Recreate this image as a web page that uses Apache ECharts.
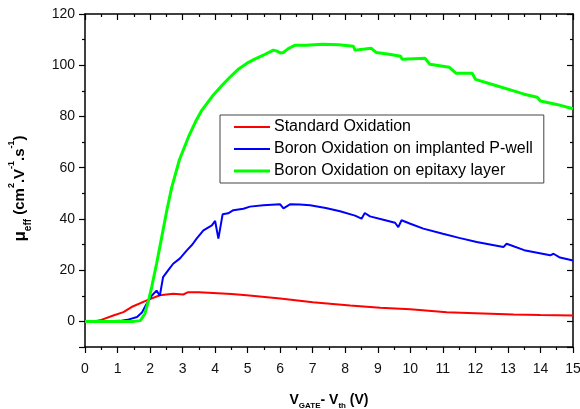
<!DOCTYPE html>
<html>
<head>
<meta charset="utf-8">
<script src="https://cdn.jsdelivr.net/npm/echarts@6/dist/echarts.min.js"></script>
<style>
  html, body { margin: 0; padding: 0; background: #fff; }
  #chart { width: 580px; height: 409px; }
</style>
</head>
<body>
<div id="chart"></div>
<script>
// Effective mobility vs. gate overdrive for three oxidation processes
const seriesNames = [
  'Standard Oxidation',
  'Boron Oxidation on implanted P-well',
  'Boron Oxidation on epitaxy layer'
];

// [V_GATE - V_th (V), mu_eff (cm2/V/s)]
const standardOxidation = [
  [0, 0], [0.3, 0.1], [0.46, 0.4], [0.87, 2.3], [1.18, 3.6], [1.43, 5.6],
  [1.9, 8.2], [2.3, 10.2], [2.71, 10.8], [3.02, 10.5], [3.17, 11.4],
  [3.5, 11.4], [3.94, 11.1], [4.5, 10.7], [4.97, 10.2], [6.0, 8.9],
  [7.0, 7.5], [8.15, 6.2], [9.07, 5.35], [10.0, 4.7], [11.12, 3.6],
  [12.0, 3.2], [13.17, 2.7], [14.0, 2.5], [15.0, 2.3]
];

const boronImplanted = [
  [0, 0], [0.5, 0], [1.08, 0.2], [1.3, 0.6], [1.6, 1.7], [1.75, 3.5],
  [1.9, 7], [2.05, 10], [2.2, 12], [2.3, 10], [2.4, 17.3], [2.56, 20],
  [2.71, 22.5], [2.92, 24.6], [3.13, 27.7], [3.3, 30], [3.43, 32.3],
  [3.64, 35.5], [3.9, 37.5], [4.0, 39.2], [4.1, 32.3], [4.23, 41.8],
  [4.4, 42.2], [4.56, 43.4], [4.87, 44], [5.07, 44.8], [5.48, 45.3],
  [6.0, 45.7], [6.1, 44.1], [6.3, 45.7], [6.6, 45.6], [6.92, 45.3],
  [7.4, 44.3], [7.84, 43], [8.3, 41.3], [8.5, 40.1], [8.6, 42.3],
  [8.76, 41], [9.2, 39.6], [9.53, 38.5], [9.63, 36.8], [9.73, 39.5],
  [10.0, 38.1], [10.4, 36.2], [11.0, 34.2], [11.5, 32.6], [12.04, 31],
  [12.45, 30], [12.86, 29], [12.96, 30.3], [13.5, 27.8], [14.3, 25.8],
  [14.4, 26.4], [14.6, 24.9], [15.0, 23.8]
];

const boronEpitaxy = [
  [0, 0], [1.0, 0], [1.5, 0], [1.7, 0.3], [1.84, 3], [1.95, 8],
  [2.05, 13.4], [2.2, 22.5], [2.36, 33], [2.51, 43], [2.66, 52],
  [2.9, 63], [3.18, 72], [3.4, 78], [3.59, 82.4], [3.94, 88.3],
  [4.2, 92], [4.46, 95.4], [4.7, 98.3], [4.97, 100.7], [5.2, 102.3],
  [5.48, 103.9], [5.79, 105.9], [5.9, 105.5], [6.0, 104.8], [6.1, 105.0],
  [6.25, 106.5], [6.45, 107.8], [6.8, 107.8], [7.3, 108.2], [7.8, 108.0],
  [8.25, 107.4], [8.3, 105.9], [8.6, 106.3], [8.8, 106.6], [8.95, 105],
  [9.3, 104.4], [9.7, 103.5], [9.75, 102.3], [10.45, 102.7], [10.6, 100.4],
  [10.9, 99.8], [11.2, 99.2], [11.4, 96.9], [11.9, 96.9], [12.0, 94.5],
  [12.6, 92.2], [13.3, 89.5], [13.5, 88.7], [13.9, 87.5], [14.0, 86],
  [14.5, 84.7], [15.0, 83]
];

const seriesColors = ['#ff0000', '#0000ff', '#00ff00'];
const seriesWidths = [2, 2, 3];
// thin bar icons for the legend keys, one per line weight
const legendIcons = [
  'path://M0,0 L36,0 L36,2 L0,2 Z',
  'path://M0,0 L36,0 L36,2 L0,2 Z',
  'path://M0,0 L36,0 L36,3 L0,3 Z'
];

const xRange = [0, 15];
const yRange = [-10, 120];
const yLabelStep = 20;

const textFont = '"Liberation Sans", Arial, sans-serif';

const axisLine = { onZero: false, lineStyle: { color: '#000', width: 1.5 } };
const tickLine = { color: '#000', width: 1.2 };

const chart = echarts.init(document.getElementById('chart'), null, { renderer: 'canvas' });

const option = {
  backgroundColor: '#fff',
  animation: false,
  grid: { left: 85, right: 7, top: 14, bottom: 62, containLabel: false, outerBoundsMode: 'none' },
  legend: {
    data: seriesNames.map((name, i) => ({
      name: name,
      icon: legendIcons[i],
      itemStyle: { color: seriesColors[i] }
    })),
    orient: 'vertical',
    left: 220,
    top: 115,
    padding: [4, 11, 4, 14],
    itemWidth: 36,
    itemHeight: 14,
    itemGap: 6,
    backgroundColor: '#fff',
    borderColor: '#444',
    borderWidth: 1,
    textStyle: { fontFamily: textFont, fontSize: 16, lineHeight: 16, color: '#000', padding: [0, 0, 0, -1] }
  },
  xAxis: [
    {
      type: 'value', position: 'bottom',
      min: xRange[0], max: xRange[1], interval: 1,
      axisLine: axisLine,
      axisTick: { show: true, inside: false, length: 6, lineStyle: tickLine },
      minorTick: { show: true, splitNumber: 2, length: 3, lineStyle: tickLine },
      splitLine: { show: false },
      axisLabel: { fontFamily: textFont, fontSize: 14, color: '#111', margin: 15 },
      name: '{v|V}{sub|GATE}{v|- V}{sub|th}{v| (V)}',
      nameLocation: 'middle',
      nameGap: 43,
      nameTextStyle: {
        rich: {
          v: { fontFamily: textFont, fontWeight: 'bold', fontSize: 14, color: '#000', lineHeight: 20, verticalAlign: 'middle' },
          sub: { fontFamily: textFont, fontWeight: 'bold', fontSize: 8, color: '#000', lineHeight: 20, verticalAlign: 'bottom' }
        }
      }
    },
    {
      type: 'value', position: 'top',
      min: xRange[0], max: xRange[1], interval: 1,
      axisLine: axisLine,
      axisTick: { show: true, inside: true, length: 6, lineStyle: tickLine },
      minorTick: { show: true, splitNumber: 2, length: 3, lineStyle: tickLine },
      splitLine: { show: false },
      axisLabel: { show: false }
    }
  ],
  yAxis: [
    {
      type: 'value', position: 'left',
      min: yRange[0], max: yRange[1],
      minInterval: yLabelStep, maxInterval: yLabelStep,
      axisLine: axisLine,
      axisTick: { show: true, inside: false, length: 6, lineStyle: tickLine },
      minorTick: { show: true, splitNumber: 2, length: 3, lineStyle: tickLine },
      splitLine: { show: false },
      minorSplitLine: { show: false },
      axisLabel: {
        fontFamily: textFont, fontSize: 14, color: '#111', margin: 10,
        formatter: v => (v >= 0 && v % yLabelStep === 0 ? String(v) : '')
      },
      name: '{mu|μ}{sub|eff}{n| (cm}{sup|2}{n|.V}{sup|-1}{n|.s}{sup|-1}{n|)}',
      nameLocation: 'middle',
      nameRotate: 90,
      nameGap: 52,
      nameTextStyle: {
        padding: [0, 16, 0, 0],
        rich: {
          mu: { fontFamily: textFont, fontWeight: 'bold', fontSize: 17, color: '#000', lineHeight: 26, verticalAlign: 'middle' },
          n: { fontFamily: textFont, fontWeight: 'bold', fontSize: 15, color: '#000', lineHeight: 26, verticalAlign: 'middle' },
          sub: { fontFamily: textFont, fontWeight: 'bold', fontSize: 10, color: '#000', lineHeight: 26, verticalAlign: 'bottom' },
          sup: { fontFamily: textFont, fontWeight: 'bold', fontSize: 9, color: '#000', lineHeight: 26, verticalAlign: 'top' }
        }
      }
    },
    {
      type: 'value', position: 'right',
      min: yRange[0], max: yRange[1],
      minInterval: yLabelStep, maxInterval: yLabelStep,
      axisLine: axisLine,
      axisTick: { show: true, inside: true, length: 6, lineStyle: tickLine },
      minorTick: { show: true, splitNumber: 2, length: 3, lineStyle: tickLine },
      splitLine: { show: false },
      axisLabel: { show: false }
    }
  ],
  series: [standardOxidation, boronImplanted, boronEpitaxy].map((data, i) => ({
    name: seriesNames[i],
    type: 'line',
    data: data,
    symbol: 'none',
    color: seriesColors[i],
    lineStyle: { color: seriesColors[i], width: seriesWidths[i] },
    z: 2 + i
  }))
};

chart.setOption(option);
</script>
</body>
</html>
